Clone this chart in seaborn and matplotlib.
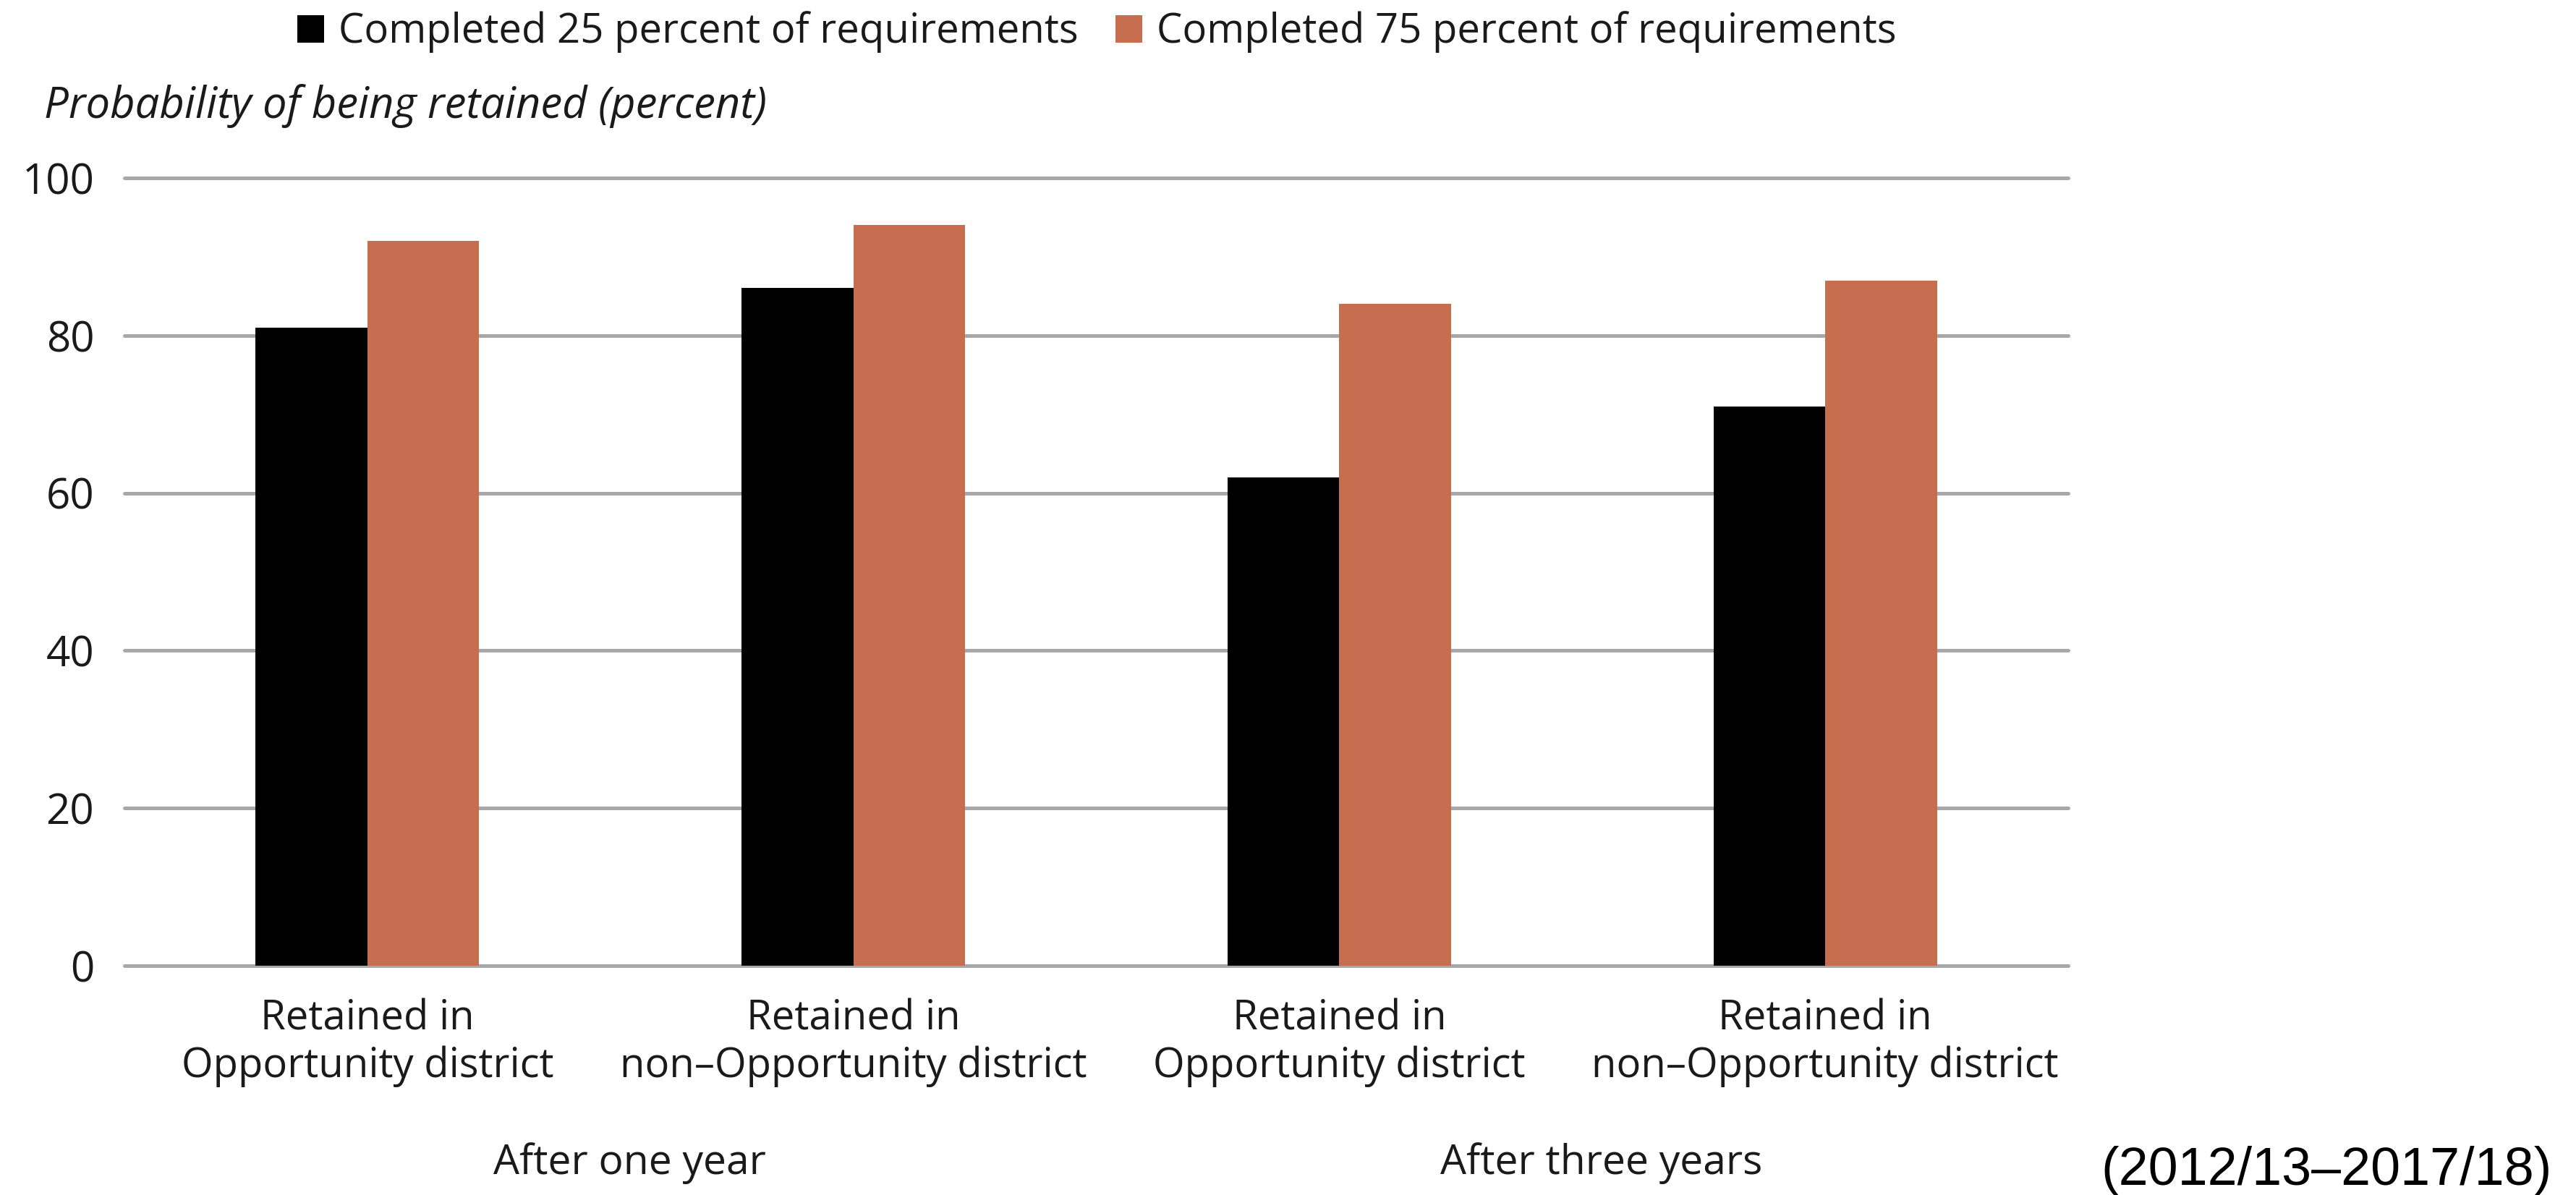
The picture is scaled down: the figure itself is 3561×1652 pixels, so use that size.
import matplotlib
matplotlib.use("Agg")
import matplotlib.pyplot as plt
import matplotlib.transforms as mtransforms
import seaborn as sns
import pandas as pd

# ---- data ----
bar_ids = ["one_opp", "one_non", "three_opp", "three_non"]
tick_labels = [
    "Retained in\nOpportunity district",
    "Retained in\nnon\u2013Opportunity district",
    "Retained in\nOpportunity district",
    "Retained in\nnon\u2013Opportunity district",
]
series_names = ["Completed 25 percent of requirements",
                "Completed 75 percent of requirements"]
pct25 = [81, 86, 62, 71]
pct75 = [92, 94, 84, 87]
group_labels = ["After one year", "After three years"]
group_members = [[0, 1], [2, 3]]
y_ticks = [0, 20, 40, 60, 80, 100]
y_label = "Probability of being retained (percent)"
note = "(2012/13\u20132017/18)"

df = pd.DataFrame({
    "bar": bar_ids * 2,
    "series": [series_names[0]] * 4 + [series_names[1]] * 4,
    "value": pct25 + pct75,
})

# ---- style ----
sns.set_style("white")
plt.rcParams["font.family"] = ["Open Sans", "DejaVu Sans"]
TXT = "#1a1a1a"
FS = 40.5

W, H = 3561, 1652
fig = plt.figure(figsize=(W / 100, H / 100), dpi=100)
ax = fig.add_axes([172 / W, 1 - 1335 / H, (2859 - 172) / W, (1335 - 246) / H])

sns.barplot(data=df, x="bar", y="value", hue="series", order=bar_ids,
            hue_order=series_names, palette=["#000000", "#C86E50"],
            width=0.46, linewidth=0, saturation=1, errorbar=None, ax=ax)

ax.set_xlim(-0.5, 3.5)
ax.set_ylim(0, 100)
ax.set_yticks(y_ticks)
ax.set_xticks(range(len(bar_ids)))
ax.set_xticklabels(tick_labels, fontsize=FS, color=TXT, linespacing=1.17)
ax.set_xlabel("")
ax.set_ylabel("")
ax.tick_params(axis="y", length=0, pad=30, labelsize=42, labelcolor=TXT)
ax.tick_params(axis="x", length=0, pad=33)
ax.yaxis.grid(True, color="#A8A8AB", linewidth=3.6)
ax.xaxis.grid(False)
ax.set_axisbelow(True)
for gl in ax.get_ygridlines():
    gl.set_clip_on(False)
for s in ax.spines.values():
    s.set_visible(False)

sns.move_legend(ax, "center left", bbox_to_anchor=(411 / W, 1 - 44.5 / H),
                bbox_transform=fig.transFigure, ncol=2, frameon=False,
                title=None, fontsize=FS, handlelength=0.66, handleheight=0.66,
                handletextpad=0.36, columnspacing=0.9, borderpad=0,
                borderaxespad=0)
for t in ax.get_legend().get_texts():
    t.set_color(TXT)

fig.text(61 / W, 1 - 163 / H, y_label, style="italic", fontsize=43,
         color=TXT, va="baseline", ha="left")

trans = mtransforms.blended_transform_factory(ax.transData, fig.transFigure)
for lab, members in zip(group_labels, group_members):
    xc = sum(members) / len(members) + 0.04
    ax.text(xc, 1 - 1623 / H, lab, transform=trans, ha="center",
            va="baseline", fontsize=41, color=TXT)

fig.text(3528 / W, 1 - 1638 / H, note, family=["Liberation Sans", "DejaVu Sans"],
         fontsize=53, color="#000000", ha="right", va="baseline")

fig.savefig("out.png", dpi=100, facecolor="white")
